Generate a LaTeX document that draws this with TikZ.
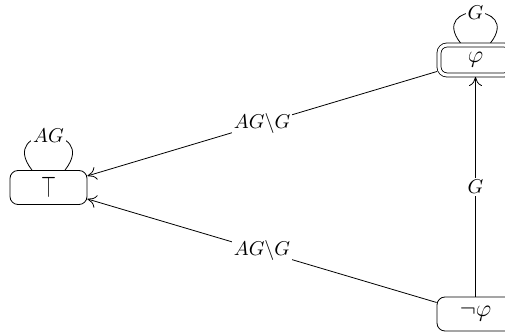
\documentclass[tikz,border=0pt]{standalone}
\usepackage{graphicx}
\usetikzlibrary{arrows.meta}
\begin{document}
\begin{tikzpicture}[x=0.5pt,y=-0.5pt,
  state/.style={draw, rounded corners=4pt, minimum width=38.5pt,
    minimum height=17pt, inner sep=0pt},
  final/.style={state, double, double distance=1.6pt,
    minimum width=36.5pt, minimum height=15pt, outer sep=1pt},
  tr/.style={-{To[length=4.5pt,width=6.5pt]}},
  lbl/.style={fill=white, inner sep=1pt}]
\useasboundingbox (0,0) rectangle (505,336);

% states
\node[state] (top)  at (48.5,187.5) {\scalebox{0.96}[1.5]{$\top$}};
\node[final] (phi)  at (475.5,60)   {\large$\varphi$};
\node[state] (nphi) at (475.5,314)  {\large$\neg\varphi$};

% transitions
\draw[tr] (phi)  -- node[lbl] {$AG\backslash G$} (top);
\draw[tr] (nphi) -- node[lbl] {$AG\backslash G$} (top);
\draw[tr] (nphi) -- node[lbl] {$G$} (phi);

% self loops
\draw ([xshift=-8.25pt]top.north) .. controls +(128:29pt) and +(52:29pt)
  .. node[lbl] {$AG$} ([xshift=8.25pt]top.north);
\draw ([xshift=-7.5pt]phi.north) .. controls +(128:26pt) and +(52:26pt)
  .. node[lbl] {$G$} ([xshift=7.5pt]phi.north);
\end{tikzpicture}
\end{document}
